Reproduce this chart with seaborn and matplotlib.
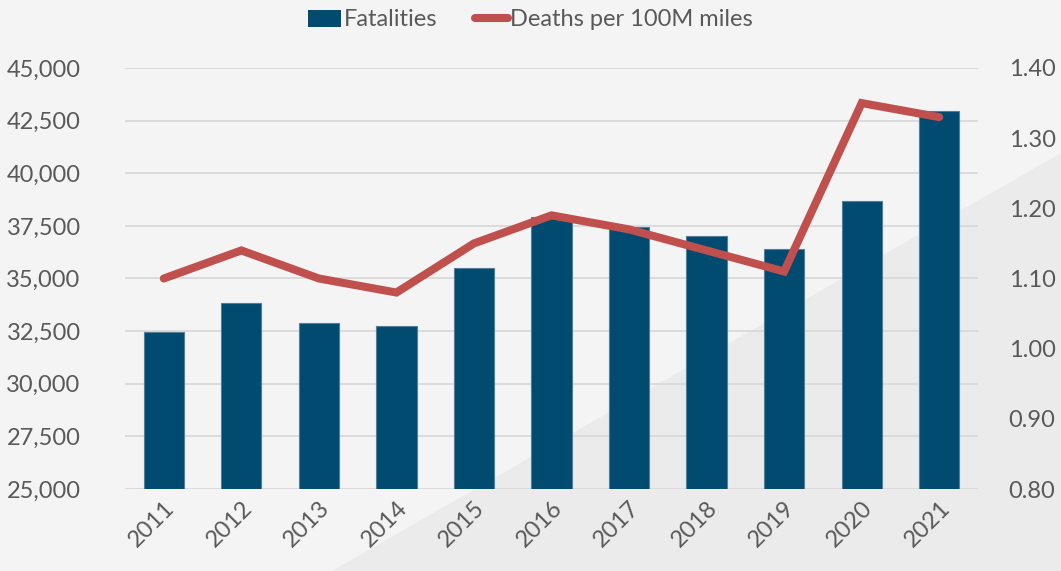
import numpy as np
import pandas as pd
import matplotlib
matplotlib.use("Agg")
import matplotlib.pyplot as plt
from matplotlib.patches import Polygon, Patch
from matplotlib.lines import Line2D
from matplotlib.ticker import FuncFormatter, MultipleLocator
import seaborn as sns

# Traffic fatalities and fatality rate, 2011-2021
years = ["2011", "2012", "2013", "2014", "2015", "2016",
         "2017", "2018", "2019", "2020", "2021"]
fatalities = [32480, 33850, 32900, 32730, 35480, 37900,
              37470, 37000, 36400, 38700, 42950]
deaths_per_100m = [1.10, 1.14, 1.10, 1.08, 1.15, 1.19,
                   1.17, 1.14, 1.11, 1.35, 1.33]

BAR = "#004B6F"
LINE = "#C0504D"
TXT = "#595959"
GRID = "#D9D9D9"
BG = "#F4F4F4"

sns.set_theme(style="white")
plt.rcParams["font.family"] = ["Lato", "DejaVu Sans"]

df = pd.DataFrame({"year": years, "fatalities": fatalities,
                   "rate": deaths_per_100m})

fig = plt.figure(figsize=(10.61, 5.71), dpi=100, facecolor=BG)
# shaded wedge in the lower right of the background
fig.add_artist(Polygon([(332 / 1061, 0), (1.0, 1 - 153 / 571), (1.0, 0)],
                       closed=True, transform=fig.transFigure,
                       facecolor="#EBEBEB", edgecolor="none", zorder=-10))

ax = fig.add_axes([125 / 1061, 1 - 489 / 571, (978 - 125) / 1061, (489 - 68) / 571])
ax.set_facecolor("none")

sns.barplot(data=df, x="year", y="fatalities", color=BAR, width=0.52,
            edgecolor="#4F7F9C", linewidth=0.8, saturation=1, ax=ax, zorder=2)
ax.set_ylim(25000, 45000)
ax.yaxis.set_major_locator(MultipleLocator(2500))
ax.yaxis.set_major_formatter(FuncFormatter(lambda v, p: f"{v:,.0f}"))
ax.grid(axis="y", color=GRID, linewidth=1.3, zorder=0)
ax.set_axisbelow(True)
for s in ax.spines.values():
    s.set_visible(False)
ax.set_xlabel("")
ax.set_ylabel("")
ax.tick_params(axis="y", length=0, pad=32, labelsize=17, labelcolor=TXT)
ax.tick_params(axis="x", length=0, pad=6, labelsize=17, labelcolor=TXT)
for lab in ax.get_xticklabels():
    lab.set_rotation(45)
    lab.set_ha("right")
    lab.set_rotation_mode("anchor")
ax.set_xlim(-0.5, 10.5)

ax2 = ax.twinx()
sns.lineplot(x=np.arange(len(years)), y=deaths_per_100m, color=LINE,
             linewidth=5.8, ax=ax2, zorder=3, solid_capstyle="round",
             solid_joinstyle="miter")
ax2.set_ylim(0.80, 1.40)
ax2.yaxis.set_major_locator(MultipleLocator(0.10))
ax2.yaxis.set_major_formatter(FuncFormatter(lambda v, p: f"{v:.2f}"))
ax2.tick_params(axis="y", length=0, pad=22, labelsize=17, labelcolor=TXT)
for s in ax2.spines.values():
    s.set_visible(False)
ax2.set_ylabel("")
ax2.set_facecolor("none")
ax2.grid(False)

handles = [Patch(facecolor=BAR, edgecolor="none"),
           Line2D([0], [0], color=LINE, linewidth=5.8, solid_capstyle="round")]
fig.legend(handles, ["Fatalities", "Deaths per 100M miles"], loc="center",
           bbox_to_anchor=(0.5, 1 - 20 / 571), ncol=2, frameon=False,
           fontsize=17, labelcolor=TXT, handlelength=1.4, handletextpad=0.1,
           columnspacing=1.6)

fig.savefig("out.png", dpi=100, facecolor=BG)
